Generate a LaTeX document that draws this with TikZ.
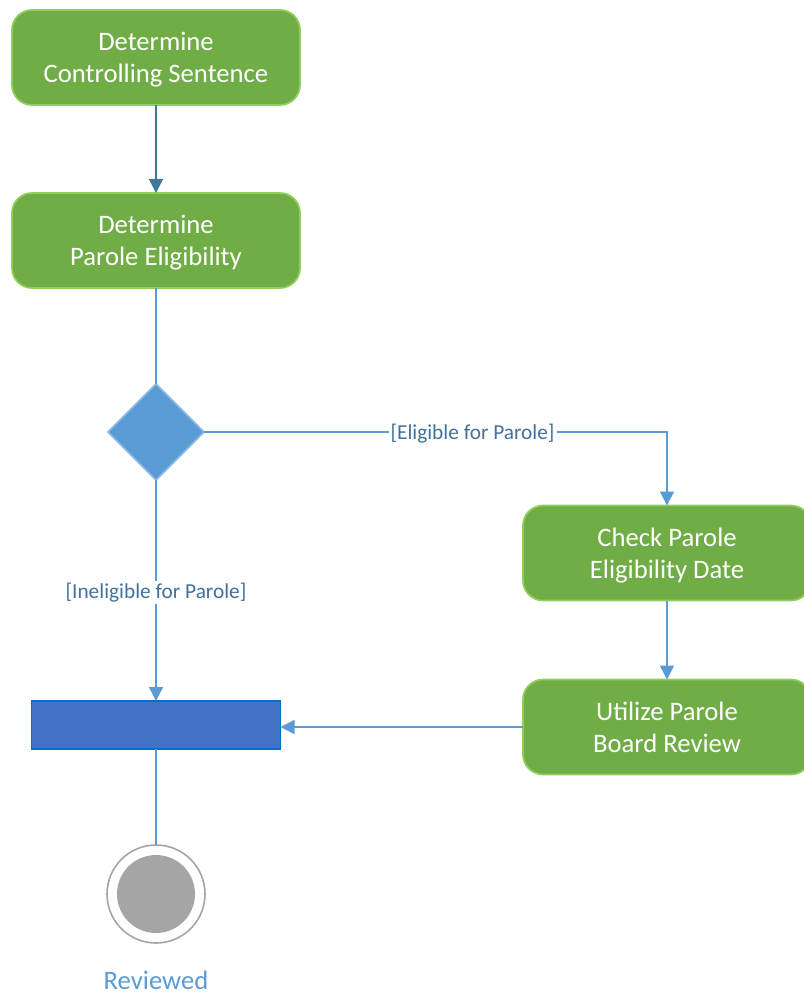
\documentclass[tikz,border=0pt]{standalone}
\usepackage{fontspec}
\setmainfont{Carlito}
\usepackage{xcolor}
\usetikzlibrary{positioning}
\usetikzlibrary{shapes,arrows.meta}

\definecolor{actfill}{HTML}{70AD47}
\definecolor{actline}{HTML}{8FCF5A}
\definecolor{flowblue}{HTML}{5B9BD5}
\definecolor{flowdark}{HTML}{41799C}
\definecolor{decline}{HTML}{86B8E2}
\definecolor{barfill}{HTML}{4472C4}
\definecolor{barline}{HTML}{0070C0}
\definecolor{guardtext}{HTML}{41719C}
\definecolor{endgray}{HTML}{A5A5A5}

\tikzset{
  activity/.style={rectangle, rounded corners=15pt, draw=actline, line width=1.3pt, fill=actfill,
    text=white, align=center, minimum width=216pt, minimum height=71.25pt, inner sep=0pt,
    outer sep=0pt, text depth=0pt, font=\fontsize{20}{24}\selectfont},
  decision/.style={diamond, draw=decline, line width=1.2pt, fill=flowblue, minimum size=72pt,
    inner sep=0pt, outer sep=0pt},
  forkbar/.style={rectangle, draw=barline, line width=1.2pt, fill=barfill, minimum width=186.75pt,
    minimum height=36pt, inner sep=0pt, outer sep=0pt},
  flow/.style={draw=flowblue, line width=1.1pt, -{Triangle[length=10.5pt,width=10.5pt]}},
  plain/.style={draw=flowblue, line width=1.1pt},
  guard/.style={fill=white, text=guardtext, inner sep=1.5pt, yshift=-1.5pt, font=\fontsize{16}{18}\selectfont}
}

\begin{document}
\begin{tikzpicture}[x=0.75pt, y=-0.75pt]
  \useasboundingbox (0,0) rectangle (803,994);
  \node(detsent) [activity] at (156,57.5) {Determine\\Controlling Sentence};
  \node(detelig) [activity, below=66pt of detsent] {Determine\\Parole Eligibility};
  \node(eligible) [decision, below=72pt of detelig] {};
  \node(checkdate) [activity] at (667,553) {Check Parole\\Eligibility Date};
  \node(board) [activity, below=59.25pt of checkdate] {Utilize Parole\\Board Review};
  \node(join) [forkbar, below=165.75pt of eligible] {};
  \node(final) [circle, draw=endgray, line width=1.2pt, fill=white, minimum size=73.5pt,
    inner sep=0pt, outer sep=0pt, below=72pt of join] {};
  \node(finaldot) [circle, fill=endgray, minimum size=58.5pt, inner sep=0pt] at (final) {};
  \node(reviewed) [text=flowblue, inner sep=0pt, anchor=base, font=\fontsize{20}{24}\selectfont] at (156,989) {Reviewed};
  \draw[flow, draw=flowdark] (detsent) -- (detelig);
  \draw[plain] (detelig) -- (eligible);
  \draw[flow] (eligible.east) -- node[guard, pos=0.58]{[Eligible for Parole]} (eligible.east -| checkdate.north) -- (checkdate.north);
  \draw[flow] (eligible) -- node[guard]{[Ineligible for Parole]} (join);
  \draw[flow] (checkdate) -- (board);
  \draw[flow] (board.west) -- (board.west -| join.east);
  \draw[plain] (join) -- (final);
\end{tikzpicture}
\end{document}
